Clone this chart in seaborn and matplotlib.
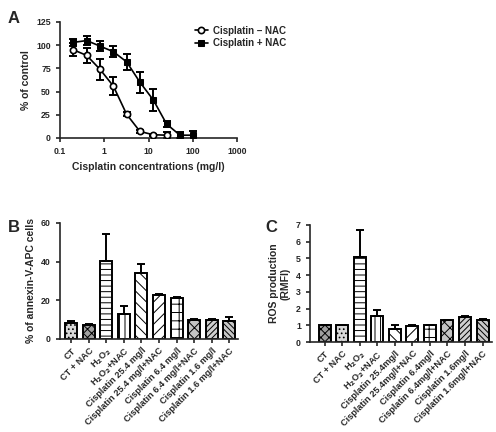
import numpy as np
import pandas as pd
import matplotlib
matplotlib.use("Agg")
import matplotlib.pyplot as plt
import seaborn as sns

# Panel A: dose-response
conc_minus = [0.2, 0.4, 0.8, 1.6, 3.2, 6.4, 12.8, 25.6]
viab_minus = [95, 89, 74, 56, 25.5, 7, 3.5, 3]
err_minus = [7, 8, 11, 10, 2, 1.5, 1, 3]
conc_plus = [0.2, 0.4, 0.8, 1.6, 3.2, 6.4, 12.8, 25.6, 51.2, 102.4]
viab_plus = [103, 105, 99, 93, 82, 60, 41, 15, 3, 3]
err_plus = [4, 5, 5, 6, 9, 11, 12, 3, 3, 5]

# Panel B: annexin-V-APC
labels_b = ["CT", "CT + NAC", "H$_2$O$_2$", "H$_2$O$_2$+NAC",
            "Cisplatin 25.4 mg/l", "Cisplatin 25.4 mg/l+NAC",
            "Cisplatin 6.4 mg/l", "Cisplatin 6.4 mg/l+NAC",
            "Cisplatin 1.6 mg/l", "Cisplatin 1.6 mg/l+NAC"]
vals_b = [8.2, 7.4, 40.5, 12.7, 34, 22.8, 21, 9.6, 10, 9.5]
errs_b = [1.2, 0.5, 13.8, 4.2, 4.6, 0.5, 0.5, 0.8, 0.4, 1.9]

# Panel C: ROS production
labels_c = ["CT", "CT + NAC", "H$_2$O$_2$", "H$_2$O$_2$+NAC",
            "Cisplatin 25.4mg/l", "Cisplatin 25.4mg/l+NAC",
            "Cisplatin 6.4mg/l", "Cisplatin 6.4mg/l+NAC",
            "Cisplatin 1.6mg/l", "Cisplatin 1.6mg/l+NAC"]
vals_c = [1.0, 1.0, 5.1, 1.53, 0.8, 0.96, 1.0, 1.3, 1.52, 1.3]
errs_c = [0.02, 0.02, 1.6, 0.37, 0.2, 0.03, 0.03, 0.04, 0.05, 0.05]

sns.set_style("ticks")
plt.rcParams['font.family'] = ['Liberation Sans', 'DejaVu Sans']
plt.rcParams['font.weight'] = 'bold'
plt.rcParams['axes.labelweight'] = 'bold'
plt.rcParams['hatch.linewidth'] = 0.7
plt.rcParams['xtick.direction'] = 'out'
plt.rcParams['ytick.direction'] = 'out'

fig = plt.figure(figsize=(4.96, 4.32), dpi=100)

# ---- Panel A
axA = fig.add_axes([0.121, 0.6806, 0.357, 0.2685])
dfm = pd.DataFrame({"conc": conc_minus, "val": viab_minus})
dfp = pd.DataFrame({"conc": conc_plus, "val": viab_plus})
axA.errorbar(conc_minus, viab_minus, yerr=err_minus, fmt='none', ecolor='black',
             elinewidth=1.4, capsize=3, capthick=1.4, zorder=2)
axA.errorbar(conc_plus, viab_plus, yerr=err_plus, fmt='none', ecolor='black',
             elinewidth=1.4, capsize=3, capthick=1.4, zorder=2)
sns.lineplot(data=dfm, x="conc", y="val", ax=axA, color='black', lw=1.2,
             marker='o', markersize=4.5, markerfacecolor='white', markeredgecolor='black',
             markeredgewidth=1.2, label="Cisplatin \u2013 NAC", zorder=3)
sns.lineplot(data=dfp, x="conc", y="val", ax=axA, color='black', lw=1.2,
             marker='s', markersize=4.5, markerfacecolor='black', markeredgecolor='black',
             label="Cisplatin + NAC", zorder=3)
axA.set_xscale('log')
axA.set_xlim(0.1, 1000)
axA.set_ylim(0, 125)
axA.set_xticks([0.1, 1, 10, 100, 1000])
axA.set_xticklabels(["0.1", "1", "10", "100", "1000"])
axA.minorticks_off()
axA.set_yticks([0, 25, 50, 75, 100, 125])
axA.set_xlabel("Cisplatin concentrations (mg/l)", fontsize=7.5)
axA.set_ylabel("% of control", fontsize=7.5)
axA.tick_params(labelsize=6.3, width=1.2, length=3)
axA.legend(loc='upper left', bbox_to_anchor=(0.74, 1.0), frameon=False,
           fontsize=7, handlelength=1.3, handletextpad=0.6, labelspacing=0.25, borderaxespad=0)
for s in ['left', 'bottom']:
    axA.spines[s].set_linewidth(1.2)
sns.despine(ax=axA)

hatches = ['....', 'xxxx', '---', '|||', '\\\\\\', '///', '++', 'xxx', '//////', '\\\\\\\\\\\\']
faces_b = ['#d8d8d8', '#a0a0a0', 'white', 'white', 'white', 'white', 'white',
           '#c4c4c4', '#d0d0d0', '#c8c8c8']
hatches_c = ['xxxx', '....'] + hatches[2:]
faces_c = ['#a0a0a0', '#d8d8d8'] + faces_b[2:]


def bar_panel(ax, labels, vals, errs, hatch_list, faces, ylim, yticks, ylabel, xlim):
    df = pd.DataFrame({"group": labels, "value": vals})
    sns.barplot(data=df, x="group", y="value", ax=ax, color='white',
                edgecolor='black', linewidth=1.4, width=0.68, errorbar=None)
    for i, p in enumerate(ax.patches):
        p.set_hatch(hatch_list[i])
        p.set_facecolor(faces[i])
    xs = np.arange(len(vals))
    ax.errorbar(xs, vals, yerr=[np.zeros(len(errs)), errs], fmt='none',
                ecolor='black', elinewidth=1.4, capsize=3, capthick=1.4)
    ax.set_ylim(*ylim)
    ax.set_xlim(*xlim)
    ax.set_yticks(yticks)
    ax.set_xlabel("")
    ax.set_ylabel(ylabel, fontsize=7.5)
    ax.set_xticks(xs)
    ax.set_xticklabels(labels, rotation=45, ha='right', rotation_mode='anchor', fontsize=6.6)
    ax.tick_params(axis='y', labelsize=6.3, width=1.2, length=3)
    ax.tick_params(axis='x', width=1.2, length=3, pad=2)
    for s in ['left', 'bottom']:
        ax.spines[s].set_linewidth(1.2)
    sns.despine(ax=ax)


axB = fig.add_axes([0.121, 0.2153, 0.359, 0.2685])
bar_panel(axB, labels_b, vals_b, errs_b, hatches, faces_b, (0, 60), [0, 20, 40, 60],
          "% of annexin-V-APC cells", (-0.63, 9.5))

axC = fig.add_axes([0.625, 0.2083, 0.367, 0.271])
bar_panel(axC, labels_c, vals_c, errs_c, hatches_c, faces_c, (0, 7), list(range(8)),
          "ROS production\n(RMFI)", (-0.83, 9.54))

fig.text(0.016, 0.975, "A", fontsize=12, fontweight='bold', va='top')
fig.text(0.016, 0.49, "B", fontsize=12, fontweight='bold', va='top')
fig.text(0.535, 0.49, "C", fontsize=12, fontweight='bold', va='top')

fig.savefig("out.png", dpi=100)
